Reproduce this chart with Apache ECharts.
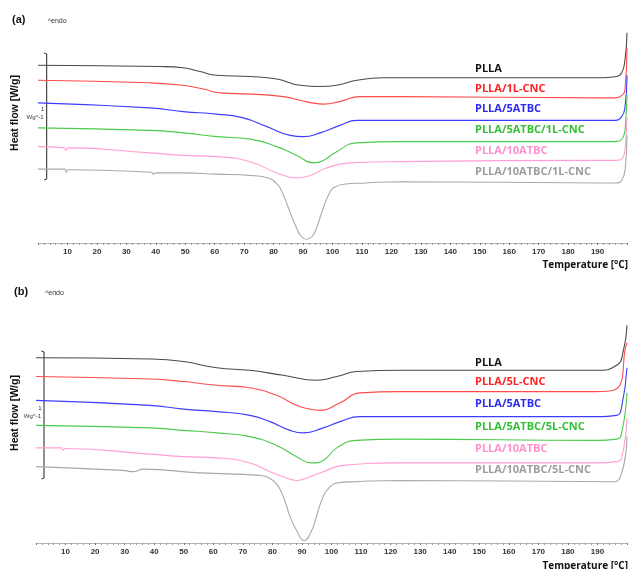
<!DOCTYPE html>
<html>
<head>
<meta charset="utf-8">
<script src="https://cdn.jsdelivr.net/npm/echarts@6/dist/echarts.min.js"></script>
<style>
  html, body { margin: 0; padding: 0; background: #fff; }
  #chart { width: 630px; height: 569px; }
</style>
</head>
<body>
<div id="chart"></div>
<script>
// temperature [°C], heat flow offset [W/g] (endo up)
var namesA = ["PLLA", "PLLA/1L-CNC", "PLLA/5ATBC", "PLLA/5ATBC/1L-CNC", "PLLA/10ATBC", "PLLA/10ATBC/1L-CNC"];
var namesB = ["PLLA", "PLLA/5L-CNC", "PLLA/5ATBC", "PLLA/5ATBC/5L-CNC", "PLLA/10ATBC", "PLLA/10ATBC/5L-CNC"];

var aPLLA = [[0,1.42],[41.4,1.41],[49.2,1.40],[55,1.37],[60.7,1.34],[72,1.33],[81.1,1.31],[89,1.26],[95.8,1.25],[101.4,1.26],[108.2,1.30],[117.1,1.32],[123,1.32],[190.8,1.32],[196.5,1.33],[198.2,1.36],[199.3,1.46],[200,1.68]];
var aCNC = [[0,1.30],[38,1.28],[49.3,1.26],[56.1,1.23],[61.8,1.20],[72,1.19],[83.3,1.17],[89,1.14],[93,1.12],[96.9,1.11],[102.5,1.13],[109.3,1.17],[122.9,1.17],[190.8,1.16],[196,1.16],[198.3,1.18],[199.3,1.22],[200,1.56]];
var aATBC5 = [[0,1.12],[38,1.08],[49.3,1.05],[60.7,1.03],[69.7,1.00],[77.7,0.93],[85.6,0.86],[90.1,0.85],[95.8,0.88],[102.5,0.94],[108.2,0.98],[122.9,0.98],[190.8,0.98],[196,0.98],[198.2,1.01],[199.3,1.08],[200,1.34]];
var aATBC5CNC = [[0,0.92],[38,0.90],[49.3,0.88],[60.7,0.85],[72,0.83],[81.1,0.77],[87.9,0.70],[93.5,0.64],[96.9,0.66],[101.4,0.73],[108.2,0.80],[122.9,0.81],[190.8,0.81],[196,0.81],[198.8,0.85],[199.5,0.95],[200,1.18]];
var aATBC10 = [[0,0.77],[8.8,0.76],[9.4,0.74],[10.2,0.76],[38,0.72],[49.3,0.70],[60.7,0.69],[72,0.65],[81.1,0.56],[87.9,0.52],[92.4,0.54],[98,0.60],[105.9,0.64],[122.9,0.65],[190.8,0.66],[196,0.66],[198.8,0.69],[199.5,0.80],[200,1.00]];
var aATBC10CNC = [[0,0.59],[9,0.59],[9.6,0.565],[10.3,0.585],[38.5,0.565],[39.2,0.55],[40,0.56],[49.3,0.56],[60.7,0.55],[72,0.54],[78.2,0.52],[81.6,0.46],[83,0.40],[84.4,0.32],[86,0.22],[87.8,0.12],[89.5,0.05],[91.2,0.03],[93,0.05],[94.6,0.12],[96,0.22],[97.5,0.32],[99,0.40],[100.3,0.44],[103.7,0.47],[111.6,0.48],[122.9,0.49],[190.8,0.48],[196,0.48],[198.2,0.50],[199.5,0.62],[200,0.86]];

var bPLLA = [[0,1.48],[38.6,1.47],[49.9,1.45],[61.2,1.40],[72.4,1.38],[83.7,1.34],[95,1.30],[101.8,1.33],[108.5,1.37],[123.2,1.38],[189.7,1.38],[196.5,1.42],[198.8,1.54],[200,1.74]];
var bCNC = [[0,1.33],[38.6,1.31],[49.9,1.29],[61.2,1.26],[72.4,1.24],[81.4,1.18],[88.2,1.10],[92.5,1.07],[96.1,1.06],[102.9,1.12],[109.6,1.20],[123.2,1.21],[189.7,1.21],[197.6,1.26],[199.3,1.54],[200,1.60]];
var bATBC5 = [[0,1.14],[38.6,1.10],[49.9,1.07],[61.2,1.05],[72.4,1.02],[79.2,0.97],[86,0.90],[90.5,0.88],[97.2,0.92],[102.9,0.97],[109.6,1.01],[123.2,1.01],[189.7,1.01],[196.5,1.02],[198.2,1.09],[200,1.40]];
var bATBC5CNC = [[0,0.94],[38.6,0.92],[49.9,0.90],[61.2,0.88],[72.4,0.85],[81.4,0.78],[88.2,0.69],[93.3,0.64],[97.2,0.66],[101.8,0.76],[108.5,0.82],[123.2,0.83],[189.7,0.82],[196.5,0.83],[198.2,0.88],[200,1.20]];
var bATBC10 = [[0,0.76],[8.6,0.76],[9.2,0.74],[10,0.755],[38.6,0.71],[49.9,0.69],[61.2,0.68],[72.4,0.64],[79.2,0.57],[86,0.51],[88.2,0.50],[90.5,0.51],[97.2,0.57],[104,0.62],[123.2,0.64],[189.7,0.64],[196.5,0.65],[198.2,0.68],[200,1.00]];
var bATBC10CNC = [[0,0.61],[29.5,0.58],[32.9,0.57],[36.3,0.59],[55.5,0.56],[75.8,0.54],[79,0.52],[81.5,0.47],[83.7,0.37],[86,0.21],[88.2,0.10],[90.7,0.02],[93.3,0.10],[95.5,0.26],[97,0.36],[98.4,0.42],[101.8,0.48],[108.5,0.49],[123.2,0.50],[195.4,0.49],[198.2,0.56],[200,0.85]];

var lineColors = ["#4a4a4a", "#ff4b4b", "#3c3cff", "#4ccb4c", "#ff9fd3", "#a9a9a9"];
var textColors = ["#151515", "#ff2424", "#2a2af0", "#34c034", "#ff90cf", "#9c9c9c"];

var chart = echarts.init(document.getElementById("chart"));

function xAx(idx) {
	return {
		gridIndex: idx, type: "value", min: 0, max: 200, interval: 10,
		axisLine: { lineStyle: { color: "#b4b4b4", width: 1 } },
		axisTick: { show: true, length: 2, lineStyle: { color: "#777" } },
		minorTick: { show: true, splitNumber: 5, length: 2, lineStyle: { color: "#999" } },
		axisLabel: { showMinLabel: false, showMaxLabel: false, margin: 5, color: "#333", fontSize: 8, fontWeight: "bold", fontFamily: "Liberation Sans" },
		splitLine: { show: false }
	};
}
function yAx(idx) {
	return { gridIndex: idx, type: "value", min: 0, max: 1.75, show: false, splitLine: { show: false } };
}
function line(name, data, i, idx) {
	return {
		name: name, type: "line", xAxisIndex: idx, yAxisIndex: idx, data: data,
		smooth: 0.5, showSymbol: false, silent: true,
		lineStyle: { color: lineColors[i], width: 1.1 }
	};
}

var series = [], graphics = [];
[aPLLA, aCNC, aATBC5, aATBC5CNC, aATBC10, aATBC10CNC].forEach(function(d, i) { series.push(line(namesA[i], d, i, 0)); });
[bPLLA, bCNC, bATBC5, bATBC5CNC, bATBC10, bATBC10CNC].forEach(function(d, i) { series.push(line(namesB[i], d, i, 1)); });

var labelYA = [69, 89, 109, 130, 151, 172];
var labelYB = [363, 382, 404, 427, 449, 470];
function txt(x, y, s, font, fill, align, rot) {
	return { type: "text", x: x, y: y, rotation: rot || 0, silent: true,
		style: { text: s, font: font, fill: fill, align: align || "left", verticalAlign: "middle" } };
}
namesA.forEach(function(n, i) { graphics.push(txt(475, labelYA[i], n, "bold 11px 'Open Sans'", textColors[i])); });
namesB.forEach(function(n, i) { graphics.push(txt(475, labelYB[i], n, "bold 11px 'Open Sans'", textColors[i])); });

// panel decorations: letter, endo marker, scale bar, axis titles
[{ top: 0, letter: "(a)", lx: 12, bx: 46.7, b0: 53, b1: 180, ty: 265, hy: 113 },
 { top: 272, letter: "(b)", lx: 14, bx: 44, b0: 351, b1: 479, ty: 566, hy: 413 }].forEach(function(p) {
	graphics.push(txt(p.lx, p.top + 20, p.letter, "bold 11px 'Liberation Sans'", "#111"));
	graphics.push(txt(p.bx + 1, p.top + 21, "^endo", "7px 'Liberation Sans'", "#333"));
	graphics.push({ type: "polyline", silent: true,
		shape: { points: [[p.bx - 2.5, p.b0], [p.bx, p.b0 + 1], [p.bx, p.b1 - 1], [p.bx - 2.5, p.b1]] },
		style: { stroke: "#222", lineWidth: 1, fill: null } });
	graphics.push(txt(p.bx - 4, (p.b0 + p.b1) / 2 - 7, "1", "6px 'Liberation Sans'", "#333", "center"));
	graphics.push(txt(p.bx - 3, (p.b0 + p.b1) / 2 + 1, "Wg^-1", "6px 'Liberation Sans'", "#333", "right"));
	graphics.push(txt(15, p.hy, "Heat flow [W/g]", "bold 10.5px 'Liberation Sans'", "#111", "center", Math.PI / 2));
	graphics.push(txt(628, p.ty, "Temperature [°C]", "bold 10px 'Open Sans'", "#111", "right"));
});

chart.setOption({
	animation: false,
	backgroundColor: "#fff",
	grid: [
		{ left: 38, right: 3, top: 24, height: 219 },
		{ left: 36, right: 3, top: 324, height: 219 }
	],
	xAxis: [xAx(0), xAx(1)],
	yAxis: [yAx(0), yAx(1)],
	series: series,
	graphic: graphics
});
</script>
</body>
</html>
